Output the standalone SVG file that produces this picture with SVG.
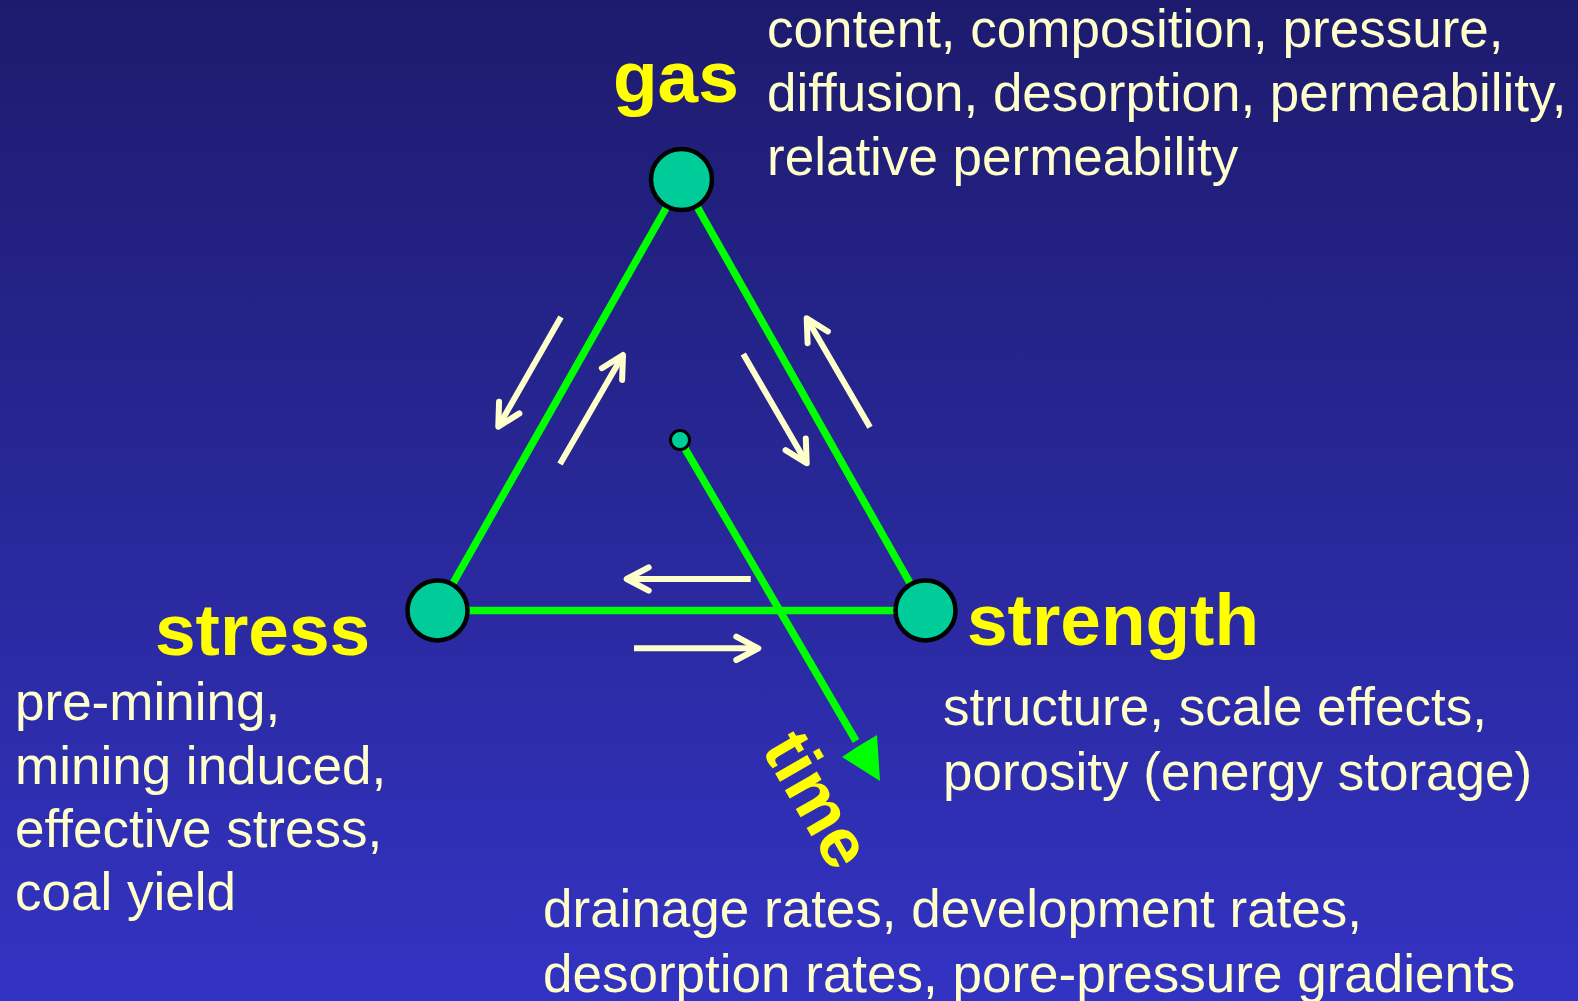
<svg xmlns="http://www.w3.org/2000/svg" width="1578" height="1001" viewBox="0 0 1578 1001">
  <style>
    .lbl { font-family: "Liberation Sans", Arial, sans-serif; font-weight: bold; font-size: 73px; fill: #FFFF00; }
    .desc { font-family: "Liberation Sans", Arial, sans-serif; font-size: 53px; fill: #FFFFCC; font-variant-ligatures: none; font-feature-settings: "liga" 0, "clig" 0; }
    .node { fill: #00CC99; stroke: #000000; stroke-width: 4.5; }
    .edge { stroke: #00FF00; stroke-width: 7.5; fill: none; }
    .flow { stroke: #FFFFCC; stroke-width: 6; fill: none; marker-end: url(#chev); }
  </style>
  <defs>
    <linearGradient id="bg" x1="0" y1="0" x2="0" y2="1">
      <stop offset="0" stop-color="#1D1B6D"/>
      <stop offset="1" stop-color="#3333C3"/>
    </linearGradient>
    <marker id="chev" markerUnits="userSpaceOnUse" markerWidth="40" markerHeight="40" viewBox="-30 -20 40 40" refX="0" refY="0" orient="auto" overflow="visible">
      <path d="M -22,-11.7 L 0,0 L -22,11.7" fill="none" stroke="#FFFFCC" stroke-width="6" stroke-linecap="round" stroke-linejoin="round"/>
    </marker>
  </defs>
  <rect x="0" y="0" width="1578" height="1001" fill="url(#bg)"/>

  <g id="connectors">
    <line class="edge" x1="682" y1="180" x2="437.5" y2="610.5"/>
    <line class="edge" x1="682" y1="180" x2="925.5" y2="610.5"/>
    <line class="edge" x1="437.5" y1="610.5" x2="925.5" y2="610.5"/>
    <line class="edge" x1="680" y1="440" x2="856" y2="741"/>
    <polygon points="880,781 842,757 857,747 877,735" fill="#00FF00"/>
    <line class="flow" x1="561" y1="317" x2="498.3" y2="426.7"/>
    <line class="flow" x1="560" y1="464" x2="623" y2="355"/>
    <line class="flow" x1="743.3" y1="354" x2="806.7" y2="463.3"/>
    <line class="flow" x1="870" y1="427.3" x2="806.7" y2="318.3"/>
    <line class="flow" x1="750.7" y1="579" x2="626.7" y2="579"/>
    <line class="flow" x1="634" y1="648.3" x2="758.3" y2="648.3"/>
  </g>

  <g id="node-gas">
    <circle class="node" cx="681.5" cy="179.5" r="30.5"/>
    <text class="lbl" x="613" y="102">gas</text>
    <text class="desc" x="767" y="47">content, composition, pressure,</text>
    <text class="desc" x="767" y="111">diffusion, desorption, permeability,</text>
    <text class="desc" x="767" y="175">relative permeability</text>
  </g>

  <g id="node-stress">
    <circle class="node" cx="437.5" cy="610.5" r="30"/>
    <text class="lbl" x="155" y="655">stress</text>
    <text class="desc" x="15" y="720">pre-mining,</text>
    <text class="desc" x="15" y="784">mining induced,</text>
    <text class="desc" x="15" y="847">effective stress,</text>
    <text class="desc" x="15" y="910">coal yield</text>
  </g>

  <g id="node-strength">
    <circle class="node" cx="925.5" cy="610.5" r="30"/>
    <text class="lbl" x="967" y="645">strength</text>
    <text class="desc" x="943" y="725">structure, scale effects,</text>
    <text class="desc" x="943" y="790">porosity (energy storage)</text>
  </g>

  <g id="node-time">
    <circle class="node" cx="680" cy="440" r="9.5" style="stroke-width:3"/>
    <text class="lbl" style="font-size:70px" transform="translate(761,749) rotate(60)">time</text>
    <text class="desc" x="543" y="927">drainage rates, development rates,</text>
    <text class="desc" x="543" y="992">desorption rates, pore-pressure gradients</text>
  </g>
</svg>
